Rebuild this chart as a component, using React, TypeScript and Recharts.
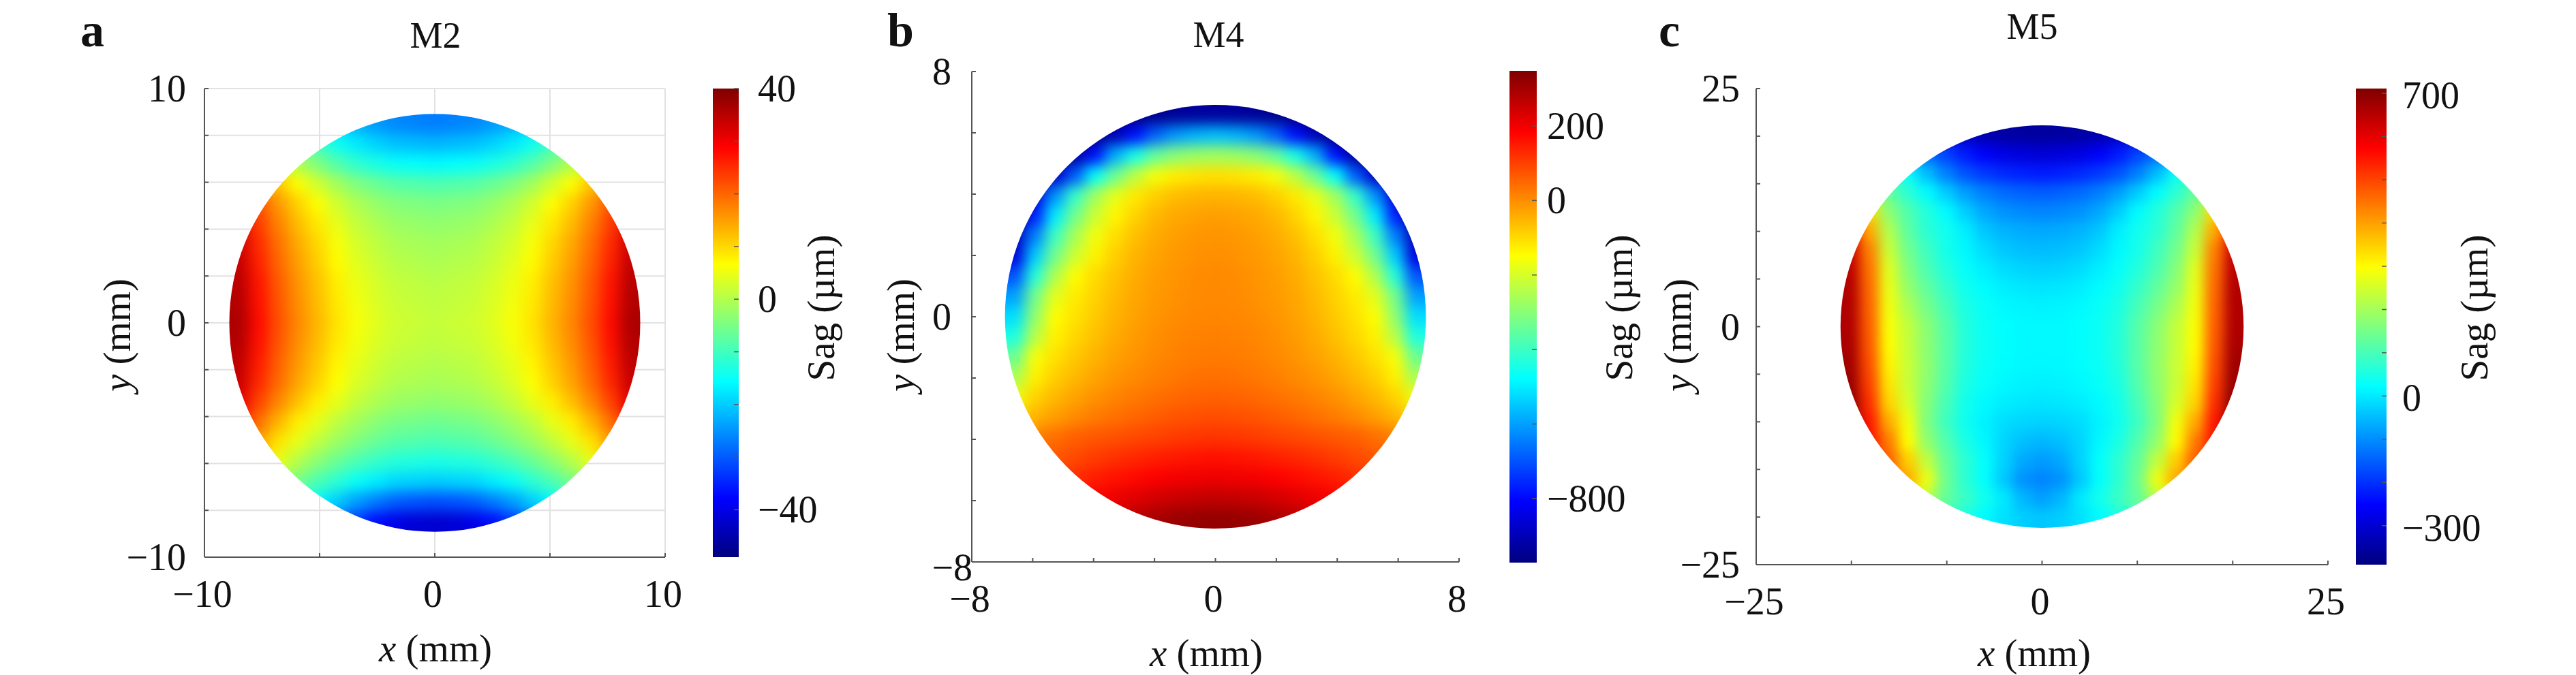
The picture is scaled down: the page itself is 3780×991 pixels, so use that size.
import { Bar, BarChart, CartesianGrid, Scatter, ScatterChart, XAxis, YAxis } from 'recharts'

const SERIF = '"Liberation Serif", "Times New Roman", serif'
const JET = [
  [0, '#00007f'],
  [0.125, '#0000ff'],
  [0.375, '#00ffff'],
  [0.625, '#ffff00'],
  [0.875, '#ff0000'],
  [1, '#7f0000'],
] as const

// cell centres, mm
const m2Xs = [-8.48, -7.63, -6.78, -5.93, -5.09, -4.24, -3.39, -2.54, -1.7, -0.85, 0, 0.85, 1.7, 2.54, 3.39, 4.24, 5.09, 5.93, 6.78, 7.63, 8.48]
const m4Xs = [-6.57, -5.91, -5.26, -4.6, -3.94, -3.29, -2.63, -1.97, -1.31, -0.66, 0, 0.66, 1.31, 1.97, 2.63, 3.29, 3.94, 4.6, 5.26, 5.91, 6.57]
const m5Xs = [-16.76, -15.09, -13.41, -11.73, -10.06, -8.38, -6.7, -5.03, -3.35, -1.68, 0, 1.68, 3.35, 5.03, 6.7, 8.38, 10.06, 11.73, 13.41, 15.09, 16.76]
const m5Ys = [20.1, 18.09, 16.08, 14.07, 12.06, 10.05, 8.04, 6.03, 4.02, 2.01, 0, -2.01, -4.02, -6.03, -8.04, -10.05, -12.06, -14.07, -16.08, -18.09, -20.1]

// sag in um, top row first
const m2Sag = [
  [7.5, -0.5, -6.5, -11.5, -15.5, -19.5, -22.5, -24.5, -26, -26.5, -27, -26.5, -26, -24.5, -22.5, -19.5, -15.5, -11.5, -6.5, -0.5, 7.5],
  [12.5, 4.5, -1.5, -6.5, -10.5, -14.5, -17.5, -19.5, -21, -21.5, -22, -21.5, -21, -19.5, -17.5, -14.5, -10.5, -6.5, -1.5, 4.5, 12.5],
  [18.5, 10.5, 4.5, -0.5, -4.5, -8.5, -11.5, -13.5, -15, -15.5, -16, -15.5, -15, -13.5, -11.5, -8.5, -4.5, -0.5, 4.5, 10.5, 18.5],
  [25.5, 17.5, 11.5, 6.5, 2.5, -1.5, -4.5, -6.5, -8, -8.5, -9, -8.5, -8, -6.5, -4.5, -1.5, 2.5, 6.5, 11.5, 17.5, 25.5],
  [29.5, 21.5, 15.5, 10.5, 6.5, 2.5, -0.5, -2.5, -4, -4.5, -5, -4.5, -4, -2.5, -0.5, 2.5, 6.5, 10.5, 15.5, 21.5, 29.5],
  [31.5, 23.5, 17.5, 12.5, 8.5, 4.5, 1.5, -0.5, -2, -2.5, -3, -2.5, -2, -0.5, 1.5, 4.5, 8.5, 12.5, 17.5, 23.5, 31.5],
  [33, 25, 19, 14, 10, 6, 3, 1, -0.5, -1, -1.5, -1, -0.5, 1, 3, 6, 10, 14, 19, 25, 33],
  [34, 26, 20, 15, 11, 7, 4, 2, 0.5, 0, -0.5, 0, 0.5, 2, 4, 7, 11, 15, 20, 26, 34],
  [35, 27, 21, 16, 12, 8, 5, 3, 1.5, 1, 0.5, 1, 1.5, 3, 5, 8, 12, 16, 21, 27, 35],
  [35.5, 27.5, 21.5, 16.5, 12.5, 8.5, 5.5, 3.5, 2, 1.5, 1, 1.5, 2, 3.5, 5.5, 8.5, 12.5, 16.5, 21.5, 27.5, 35.5],
  [36, 28, 22, 17, 13, 9, 6, 4, 2.5, 2, 1.5, 2, 2.5, 4, 6, 9, 13, 17, 22, 28, 36],
  [35.5, 27.5, 21.5, 16.5, 12.5, 8.5, 5.5, 3.5, 2, 1.5, 1, 1.5, 2, 3.5, 5.5, 8.5, 12.5, 16.5, 21.5, 27.5, 35.5],
  [34.5, 26.5, 20.5, 15.5, 11.5, 7.5, 4.5, 2.5, 1, 0.5, 0, 0.5, 1, 2.5, 4.5, 7.5, 11.5, 15.5, 20.5, 26.5, 34.5],
  [33.5, 25.5, 19.5, 14.5, 10.5, 6.5, 3.5, 1.5, 0, -0.5, -1, -0.5, 0, 1.5, 3.5, 6.5, 10.5, 14.5, 19.5, 25.5, 33.5],
  [31, 23, 17, 12, 8, 4.5, 1.5, -0.5, -2, -2.5, -3, -2.5, -2, -0.5, 1.5, 4.5, 8, 12, 17, 23, 31],
  [27, 19, 13, 8, 4.5, 1, -1.5, -3.5, -5, -5.5, -6, -5.5, -5, -3.5, -1.5, 1, 4.5, 8, 13, 19, 27],
  [23, 15, 9, 4.5, 1, -2, -4.5, -6.5, -8, -8.5, -9, -8.5, -8, -6.5, -4.5, -2, 1, 4.5, 9, 15, 23],
  [18, 10, 4.5, 0, -3.5, -6.5, -9, -11, -12.5, -13, -13.5, -13, -12.5, -11, -9, -6.5, -3.5, 0, 4.5, 10, 18],
  [12, 4, -1, -5.5, -9, -12, -15, -17, -19, -19.5, -20, -19.5, -19, -17, -15, -12, -9, -5.5, -1, 4, 12],
  [8, 0, -6, -11, -16, -20, -24, -27, -29.5, -30.5, -31, -30.5, -29.5, -27, -24, -20, -16, -11, -6, 0, 8],
  [3, -5, -12, -17, -23, -28, -33, -37, -40, -41.5, -42, -41.5, -40, -37, -33, -28, -23, -17, -12, -5, 3],
]

const m4Sag = [
  [-970, -970, -970, -970, -970, -970, -968, -955, -940, -935, -930, -935, -940, -955, -968, -970, -970, -970, -970, -970, -970],
  [-970, -970, -970, -970, -965, -900, -790, -680, -610, -575, -560, -575, -610, -680, -790, -900, -965, -970, -970, -970, -970],
  [-970, -970, -970, -930, -790, -580, -450, -350, -300, -278, -270, -278, -300, -350, -450, -580, -790, -930, -970, -970, -970],
  [-970, -970, -880, -690, -475, -340, -235, -160, -125, -112, -107, -112, -125, -160, -235, -340, -475, -690, -880, -970, -970],
  [-970, -860, -620, -410, -270, -180, -120, -85, -62, -52, -48, -52, -62, -85, -120, -180, -270, -410, -620, -860, -970],
  [-950, -770, -500, -330, -215, -135, -90, -55, -36, -26, -22, -26, -36, -55, -90, -135, -215, -330, -500, -770, -950],
  [-900, -640, -400, -260, -165, -105, -65, -38, -22, -12, -8, -12, -22, -38, -65, -105, -165, -260, -400, -640, -900],
  [-850, -540, -330, -210, -130, -85, -50, -28, -15, -6, -2, -6, -15, -28, -50, -85, -130, -210, -330, -540, -850],
  [-700, -430, -250, -145, -100, -68, -40, -20, -8, 2, 5, 2, -8, -20, -40, -68, -100, -145, -250, -430, -700],
  [-600, -330, -185, -122, -90, -58, -32, -16, -4, 3, 5, 3, -4, -16, -32, -58, -90, -122, -185, -330, -600],
  [-520, -290, -150, -110, -78, -48, -26, -10, 2, 8, 11, 8, 2, -10, -26, -48, -78, -110, -150, -290, -520],
  [-440, -240, -130, -95, -65, -38, -18, -2, 9, 15, 18, 15, 9, -2, -18, -38, -65, -95, -130, -240, -440],
  [-340, -160, -110, -76, -48, -25, -8, 6, 16, 22, 25, 22, 16, 6, -8, -25, -48, -76, -110, -160, -340],
  [-260, -130, -85, -55, -30, -10, 4, 18, 28, 35, 38, 35, 28, 18, 4, -10, -30, -55, -85, -130, -260],
  [-170, -90, -55, -28, -5, 12, 26, 38, 48, 55, 58, 55, 48, 38, 26, 12, -5, -28, -55, -90, -170],
  [-100, -50, -20, 5, 24, 38, 52, 64, 74, 80, 84, 80, 74, 64, 52, 38, 24, 5, -20, -50, -100],
  [-20, 20, 40, 60, 70, 80, 90, 98, 107, 113, 117, 113, 107, 98, 90, 80, 70, 60, 40, 20, -20],
  [20, 50, 70, 88, 105, 120, 132, 143, 152, 159, 163, 159, 152, 143, 132, 120, 105, 88, 70, 50, 20],
  [50, 80, 105, 125, 145, 160, 173, 185, 194, 200, 203, 200, 194, 185, 173, 160, 145, 125, 105, 80, 50],
  [70, 100, 130, 160, 185, 205, 222, 238, 250, 258, 262, 258, 250, 238, 222, 205, 185, 160, 130, 100, 70],
  [100, 130, 160, 190, 220, 250, 275, 295, 310, 318, 322, 318, 310, 295, 275, 250, 220, 190, 160, 130, 100],
]

const m5Sag = [
  [-200, -220, -240, -260, -280, -300, -320, -340, -350, -355, -357, -355, -350, -340, -320, -300, -280, -260, -240, -220, -200],
  [20, -20, -60, -100, -137, -181, -225, -258, -280, -291, -296, -291, -280, -258, -225, -181, -137, -100, -60, -20, 20],
  [210, 150, 90, 28, -49, -115, -164, -192, -209, -220, -225, -220, -209, -192, -164, -115, -49, 28, 90, 150, 210],
  [300, 220, 130, 70, 20, -32, -82, -115, -137, -148, -153, -148, -137, -115, -82, -32, 20, 70, 130, 220, 300],
  [470, 335, 175, 110, 60, 20, -30, -72, -95, -105, -109, -105, -95, -72, -30, 20, 60, 110, 175, 335, 470],
  [565, 390, 215, 125, 68, 40, 5, -38, -58, -68, -71, -68, -58, -38, 5, 40, 68, 125, 215, 390, 565],
  [625, 435, 240, 145, 90, 45, 15, -15, -36, -46, -49, -46, -36, -15, 15, 45, 90, 145, 240, 435, 625],
  [645, 450, 265, 165, 105, 60, 27, 5, -14, -24, -27, -24, -14, 5, 27, 60, 105, 165, 265, 450, 645],
  [655, 460, 275, 185, 128, 80, 40, 20, 6, -2, -5, -2, 6, 20, 40, 80, 128, 185, 275, 460, 655],
  [657, 467, 285, 210, 150, 100, 52, 30, 18, 12, 10, 12, 18, 30, 52, 100, 150, 210, 285, 467, 657],
  [658, 472, 293, 232, 172, 116, 61, 34, 23, 17, 17, 17, 23, 34, 61, 116, 172, 232, 293, 472, 658],
  [665, 480, 300, 235, 175, 118, 62, 35, 24, 18, 18, 18, 24, 35, 62, 118, 175, 235, 300, 480, 665],
  [675, 490, 310, 240, 178, 118, 60, 33, 22, 16, 15, 16, 22, 33, 60, 118, 178, 240, 310, 490, 675],
  [685, 505, 325, 240, 175, 112, 52, 28, 16, 10, 8, 10, 16, 28, 52, 112, 175, 240, 325, 505, 685],
  [700, 525, 345, 255, 165, 100, 42, 18, 5, -2, -5, -2, 5, 18, 42, 100, 165, 255, 345, 525, 700],
  [700, 550, 390, 285, 160, 90, 38, 10, -14, -22, -25, -22, -14, 10, 38, 90, 160, 285, 390, 550, 700],
  [660, 560, 440, 300, 180, 110, 50, 15, -22, -45, -55, -45, -22, 15, 50, 110, 180, 300, 440, 560, 660],
  [620, 560, 470, 350, 230, 130, 70, 25, -25, -70, -85, -70, -25, 25, 70, 130, 230, 350, 470, 560, 620],
  [600, 540, 480, 390, 280, 140, 70, 25, -35, -95, -110, -95, -35, 25, 70, 140, 280, 390, 480, 540, 600],
  [500, 450, 380, 300, 220, 130, 85, 40, 0, -55, -80, -55, 0, 40, 85, 130, 220, 300, 380, 450, 500],
  [290, 250, 210, 170, 130, 90, 50, 20, -10, -30, -38, -30, -10, 20, 50, 90, 130, 170, 210, 250, 290],
]

const m2XTicks = [-10, -5, 0, 5, 10]
const m2YTicks = [10, 8, 6, 4, 2, 0, -2, -4, -6, -8, -10]
const m4XTicks = [-8, -6, -4, -2, 0, 2, 4, 6, 8]
const m4YTicks = [8, 6, 4, 2, 0, -2, -4, -6, -8]
const m5XTicks = [-25, -16.67, -8.33, 0, 8.33, 16.67, 25]
const m5YTicks = [25, 20, 15, 10, 5, 0, -5, -10, -15, -20, -25]
const m2BarTicks = [40, 30, 20, 10, 0, -10, -20, -30, -40]
const m4BarTicks = [200, 0, -200, -400, -600, -800]
const m5BarTicks = [700, 600, 500, 400, 300, 200, 100, 0, -100, -200, -300]

function jetColor(t: number) {
  const v = Math.min(1, Math.max(0, t))
  const parts = [
    [0, 0, 127],
    [0, 0, 255],
    [0, 255, 255],
    [255, 255, 0],
    [255, 0, 0],
    [127, 0, 0],
  ]
  let i = 0
  while (i < JET.length - 2 && v > JET[i + 1][0]) i++
  const f = (v - JET[i][0]) / (JET[i + 1][0] - JET[i][0])
  const c = parts[i].map((p, k) => Math.round(p + (parts[i + 1][k] - p) * f))
  return `rgb(${c[0]},${c[1]},${c[2]})`
}

const fmt = (v: number) => String(v).replace('-', '\u2212')

function AxisTickX({ x, y, payload, labels, len }: any) {
  return (
    <g>
      <line x1={x} x2={x} y1={y} y2={y - len} stroke="#555" strokeWidth={2} />
      {labels.includes(payload.value) && (
        <text x={x - 3} y={y + 54} textAnchor="middle" dominantBaseline="central" fontFamily={SERIF} fontSize={56} fill="#111">
          {fmt(payload.value)}
        </text>
      )}
    </g>
  )
}

function AxisTickY({ x, y, payload, labels, len, gap, shiftLow }: any) {
  const low = payload.value === labels[labels.length - 1]
  return (
    <g>
      <line x1={x} x2={x + len} y1={y} y2={y} stroke="#555" strokeWidth={2} />
      {labels.includes(payload.value) && (
        <text x={x - gap + (low ? shiftLow : 0)} y={y + (low ? shiftLow / 4 : 0)} textAnchor="end" dominantBaseline="central" fontFamily={SERIF} fontSize={56} fill="#111">
          {fmt(payload.value)}
        </text>
      )}
    </g>
  )
}

function BarTick({ x, y, payload, labels, gap, dy }: any) {
  return (
    <g>
      <line x1={x - 7} x2={x} y1={y} y2={y} stroke="#555" strokeWidth={1.5} />
      {labels.includes(payload.value) && (
        <text x={x + gap} y={y + dy} dominantBaseline="central" fontFamily={SERIF} fontSize={56} fill="#111">
          {fmt(payload.value)}
        </text>
      )}
    </g>
  )
}

function HeatPanel({ id, xs, ys, sag, sagMin, sagMax, left, right, top, bottom, domX, domY, xTicks, yTicks, labelX, labelY, gapY, shiftLow, grid, blur }: any) {
  const data = sag.flatMap((row: number[], r: number) => row.map((value, c) => ({ x: xs[c], y: ys[r], value })))
  const chartLeft = left - 200
  const plotW = right - left
  const plotH = bottom - top
  const cellW = (plotW * (xs[1] - xs[0])) / (domX[1] - domX[0]) + 1
  const cellH = (plotH * (ys[0] - ys[1])) / (domY[1] - domY[0]) + 1
  return (
    <div style={{ position: 'absolute', left: chartLeft, top: 0 }}>
      <ScatterChart className={`heat-${id}`} width={plotW + 240} height={991} margin={{ left: 100, right: 40, top, bottom: 991 - bottom - 100 }}>
        <defs>
          <filter id={`blur-${id}`} x="-10%" y="-10%" width="120%" height="120%" colorInterpolationFilters="sRGB">
            <feGaussianBlur stdDeviation={blur} />
            <feComponentTransfer>
              <feFuncA type="linear" slope={100} />
            </feComponentTransfer>
          </filter>
          <clipPath id={`clip-${id}`} clipPathUnits="objectBoundingBox">
            <ellipse cx={0.5} cy={0.5} rx={0.5} ry={0.5} />
          </clipPath>
        </defs>
        {grid && <CartesianGrid stroke="#e2e2e2" strokeWidth={2} />}
        <XAxis
          type="number"
          dataKey="x"
          domain={domX}
          ticks={xTicks}
          interval={0}
          height={100}
          allowDataOverflow
          tickSize={0}
          tickMargin={0}
          tickLine={false}
          axisLine={{ stroke: '#555', strokeWidth: 2 }}
          tick={(p: any) => <AxisTickX {...p} labels={labelX} len={6} />}
        />
        <YAxis
          type="number"
          dataKey="y"
          domain={domY}
          ticks={yTicks}
          interval={0}
          width={100}
          allowDataOverflow
          tickSize={0}
          tickMargin={0}
          tickLine={false}
          axisLine={{ stroke: '#555', strokeWidth: 2 }}
          tick={(p: any) => <AxisTickY {...p} labels={labelY} len={6} gap={gapY} shiftLow={shiftLow} />}
        />
        <Scatter
          data={data}
          isAnimationActive={false}
          shape={(p: any) => (
            <rect
              x={p.cx - cellW / 2}
              y={p.cy - cellH / 2}
              width={cellW}
              height={cellH}
              fill={jetColor((p.payload.value - sagMin) / (sagMax - sagMin))}
            />
          )}
        />
      </ScatterChart>
    </div>
  )
}

function ColorBar({ id, left, width, top, bottom, sagMin, sagMax, ticks, labels, gap, dy }: any) {
  const rows = [{ name: 'Sag', span: [sagMin, sagMax] }]
  return (
    <div style={{ position: 'absolute', left, top: 0 }}>
      <BarChart width={width + 140} height={991} data={rows} barCategoryGap={0} margin={{ left: 0, right: 0, top, bottom: 991 - bottom }}>
        <defs>
          <linearGradient id={`jet-${id}`} x1="0" y1="1" x2="0" y2="0">
            {JET.map(([t, c]) => (
              <stop key={t} offset={t} stopColor={c} />
            ))}
          </linearGradient>
        </defs>
        <XAxis dataKey="name" hide />
        <YAxis
          orientation="right"
          type="number"
          width={140}
          domain={[sagMin, sagMax]}
          ticks={ticks}
          interval={0}
          allowDataOverflow
          axisLine={false}
          tickLine={false}
          tickSize={0}
          tickMargin={0}
          tick={(p: any) => <BarTick {...p} labels={labels} gap={gap} dy={dy} />}
        />
        <Bar dataKey="span" fill={`url(#jet-${id})`} isAnimationActive={false} />
      </BarChart>
    </div>
  )
}

function Caption({ x, y, letter, title, titleX, titleY, xLabel, yLabelX, sagX }: any) {
  const text = { fontFamily: SERIF, fill: '#111', textAnchor: 'middle', dominantBaseline: 'central' } as const
  return (
    <>
      <text x={x} y={68} fontFamily={SERIF} fontWeight="bold" fontSize={70} fill="#111">
        {letter}
      </text>
      <text {...text} x={titleX} y={titleY} fontSize={54}>
        {title}
      </text>
      <text {...text} x={xLabel} y={y} fontSize={57}>
        <tspan fontStyle="italic">x</tspan> (mm)
      </text>
      <text {...text} x={yLabelX} y={492} fontSize={57} transform={`rotate(-90 ${yLabelX} 492)`}>
        <tspan fontStyle="italic">y</tspan> (mm)
      </text>
      <text {...text} x={sagX} y={452} fontSize={57} transform={`rotate(-90 ${sagX} 452)`}>
        Sag (µm)
      </text>
    </>
  )
}

export default function App() {
  return (
    <div style={{ position: 'absolute', left: 0, top: 0, width: 3780, height: 991, overflow: 'hidden', background: '#fff' }}>
      <style>{`
        .heat-a .recharts-scatter { filter: url(#blur-a); clip-path: url(#clip-a); }
        .heat-b .recharts-scatter { filter: url(#blur-b); clip-path: url(#clip-b); }
        .heat-c .recharts-scatter { filter: url(#blur-c); clip-path: url(#clip-c); }
      `}</style>
      <HeatPanel id="a" xs={m2Xs} ys={[...m2Xs].reverse()} sag={m2Sag} sagMin={-49} sagMax={40} left={300} right={976} top={130} bottom={818}
        domX={[-10, 10]} domY={[-10, 10]} xTicks={m2XTicks} yTicks={m2YTicks} labelX={[-10, 0, 10]} labelY={[10, 0, -10]} gapY={27} shiftLow={0} grid blur={10} />
      <HeatPanel id="b" xs={m4Xs} ys={[...m4Xs].reverse()} sag={m4Sag} sagMin={-972} sagMax={348} left={1426} right={2141} top={105} bottom={825}
        domX={[-8, 8]} domY={[-8, 8]} xTicks={m4XTicks} yTicks={m4YTicks} labelX={[-8, 0, 8]} labelY={[8, 0, -8]} gapY={30} shiftLow={31} grid={false} blur={10} />
      <HeatPanel id="c" xs={m5Xs} ys={m5Ys} sag={m5Sag} sagMin={-390} sagMax={711} left={2577} right={3416} top={130} bottom={829}
        domX={[-25, 25]} domY={[-25, 25]} xTicks={m5XTicks} yTicks={m5YTicks} labelX={[-25, 0, 25]} labelY={[25, 0, -25]} gapY={24} shiftLow={0} grid={false} blur={9} />

      <ColorBar id="a" left={1046} width={38} top={130} bottom={818} sagMin={-49} sagMax={40} ticks={m2BarTicks} labels={[40, 0, -40]} gap={28} dy={0} />
      <ColorBar id="b" left={2215} width={40} top={104} bottom={826} sagMin={-972} sagMax={348} ticks={m4BarTicks} labels={[200, 0, -800]} gap={15} dy={0} />
      <ColorBar id="c" left={3457} width={45} top={130} bottom={829} sagMin={-390} sagMax={711} ticks={m5BarTicks} labels={[700, 0, -300]} gap={23} dy={3} />

      <svg width={3780} height={991} style={{ position: 'absolute', left: 0, top: 0, pointerEvents: 'none' }}>
        <Caption x={118} y={951} letter="a" title="M2" titleX={639} titleY={52} xLabel={639} yLabelX={171} sagX={1204} />
        <Caption x={1302} y={958} letter="b" title="M4" titleX={1788} titleY={51} xLabel={1770} yLabelX={1321} sagX={2375} />
        <Caption x={2434} y={958} letter="c" title="M5" titleX={2982} titleY={39} xLabel={2985} yLabelX={2461} sagX={3630} />
      </svg>
    </div>
  )
}
